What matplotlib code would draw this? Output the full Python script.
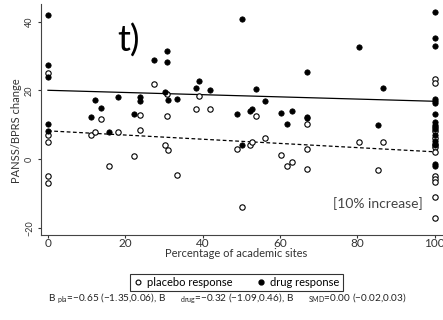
import numpy as np
import matplotlib
matplotlib.use("Agg")
import matplotlib.pyplot as plt
from matplotlib.lines import Line2D

plt.rcParams['font.family'] = ['Lato', 'DejaVu Sans']
plt.rcParams['mathtext.fontset'] = 'custom'
plt.rcParams['mathtext.rm'] = 'Lato'

# -------------- data --------------------------------------------------------
drug_x = [0, 0, 0, 0, 0, 12.1, 13.6, 11.2, 15.7, 18.1, 23.8, 23.8, 22.2,
          27.3, 30.8, 30.8, 30.3, 31.0, 33.4, 38.2, 39.0, 41.9, 50.1, 48.8,
          50.1, 52.2, 52.7, 53.7, 56.0, 60.2, 61.7, 63.0, 67.0, 67.0, 67.0,
          80.3, 85.3, 86.7,
          100, 100, 100, 100, 100, 100, 100, 100, 100, 100, 100, 100, 100,
          100, 100]
drug_y = [41.8, 27.3, 23.8, 10.1, 8.2, 17.2, 14.9, 12.1, 7.9, 18.0, 18.0, 16.9, 13.2,
          28.8, 31.4, 28.3, 19.6, 17.2, 17.6, 20.7, 22.8, 20.2, 40.8, 13.0,
          4.1, 14.1, 14.6, 20.3, 17.0, 13.4, 10.3, 14.0, 25.3, 12.3, 11.8,
          32.7, 10.0, 20.6,
          42.9, 35.1, 33.0, 17.6, 16.9, 16.2, 13.0, 10.8, 9.8, 8.7, 7.0, 5.2, 4.0,
          -1.5, -2.0]

pla_x = [0, 0, 0, 0, 0, 11.2, 12.1, 13.6, 15.7, 18.1, 23.8, 23.8, 22.2,
         27.3, 30.8, 30.8, 30.3, 31.0, 33.4, 38.2, 39.0, 41.9, 48.8, 52.2,
         52.7, 50.1, 53.7, 56.0, 60.2, 61.7, 63.0, 67.0, 67.0, 67.0,
         80.3, 85.3, 86.7,
         100, 100, 100, 100, 100, 100, 100, 100, 100, 100, 100, 100, 100]
pla_y = [24.9, 7.0, 4.9, -4.9, -6.9, 7.0, 7.9, 11.7, -1.9, 7.9, 12.7, 8.5, 1.0,
         21.7, 18.8, 12.6, 4.2, 2.7, -4.6, 14.6, 18.3, 14.6, 3.0, 4.2,
         4.9, -14.0, 12.6, 6.0, 1.1, -1.9, -0.8, 10.3, 3.0, -2.8,
         4.9, -3.3, 4.9,
         23.2, 22.0, 9.3, 8.2, 6.1, 4.5, 3.5, 2.1, -4.9, -5.8, -6.8, -11.1, -17.1]

# meta-regression fits (intercept, slope per % academic sites)
drug_fit = (20.0, -0.032)
pla_fit = (8.2, -0.061)

xticks = [0, 20, 40, 60, 80, 100]
yticks = [-20, 0, 20, 40]

note = ("B $_{\\mathregular{pla}}$=\u22120.65 (\u22121.35,0.06), B      $_{\\mathregular{drug}}$=\u22120.32 (\u22121.09,0.46), "
        "B      $_{\\mathregular{SMD}}$=0.00 (\u22120.02,0.03)")

# -------------- figure -------------------------------------------------------
fig = plt.figure(figsize=(4.43, 3.2), dpi=100)
ax = fig.add_axes([41/443, 85/320, 402/443, 231/320])

fx = np.array([0, 100])
ax.plot(fx, drug_fit[0] + drug_fit[1]*fx, color='black', lw=0.9, zorder=2)
ax.plot(fx, pla_fit[0] + pla_fit[1]*fx, color='black', lw=0.9, ls=(0, (3, 2)), zorder=2)

ax.scatter(pla_x, pla_y, s=15, facecolor='white', edgecolor='black', linewidth=0.8, zorder=3)
ax.scatter(drug_x, drug_y, s=15, facecolor='black', edgecolor='black', linewidth=0.5, zorder=4)

ax.set_xlim(-1.8, 102.1)
ax.set_ylim(-22.1, 45.1)
ax.set_xticks(xticks)
ax.set_yticks(yticks)
ax.spines['top'].set_visible(False)
ax.spines['right'].set_visible(False)
for s in ['left', 'bottom']:
    ax.spines[s].set_color('#444444')
    ax.spines[s].set_linewidth(0.8)

ax.tick_params(axis='x', length=2, pad=0, labelsize=8.5, colors='#333333')
ax.tick_params(axis='y', length=2.5, pad=2.5, labelsize=6.5, colors='#333333')
for lab in ax.get_yticklabels():
    lab.set_rotation(90)
    lab.set_va('center')

ax.set_xlabel('Percentage of academic sites', fontsize=8, color='#333333')
ax.xaxis.set_label_coords(0.486, -0.056)
fig.text(17/443, 1 - 131/320, 'PANSS/BPRS change', rotation=90,
         ha='center', va='center', fontsize=8, color='#333333')

ax.text(0.190, 0.792, 't)', transform=ax.transAxes, fontsize=26, va='baseline', ha='left')
ax.text(0.950, 0.134, '[10% increase]', transform=ax.transAxes, fontsize=10,
        ha='right', va='center', color='#444444')

handles = [Line2D([], [], ls='none', marker='o', ms=3.5, mfc='white', mec='black', mew=0.8),
           Line2D([], [], ls='none', marker='o', ms=3.5, mfc='black', mec='black')]
leg = fig.legend(handles, ['placebo response', 'drug response'], ncol=2,
                 loc='center', bbox_to_anchor=(236.5/443, 1 - 282.5/320),
                 fontsize=8, frameon=True, fancybox=False, handlelength=0.8,
                 handletextpad=0.4, columnspacing=2.2, borderpad=0.3)
leg.get_frame().set_edgecolor('black')
leg.get_frame().set_linewidth(0.8)

fig.text(227/443, 1 - 299/320, note, ha='center', va='center', fontsize=7.2, color='#222222')

fig.savefig('out.png', dpi=100)
